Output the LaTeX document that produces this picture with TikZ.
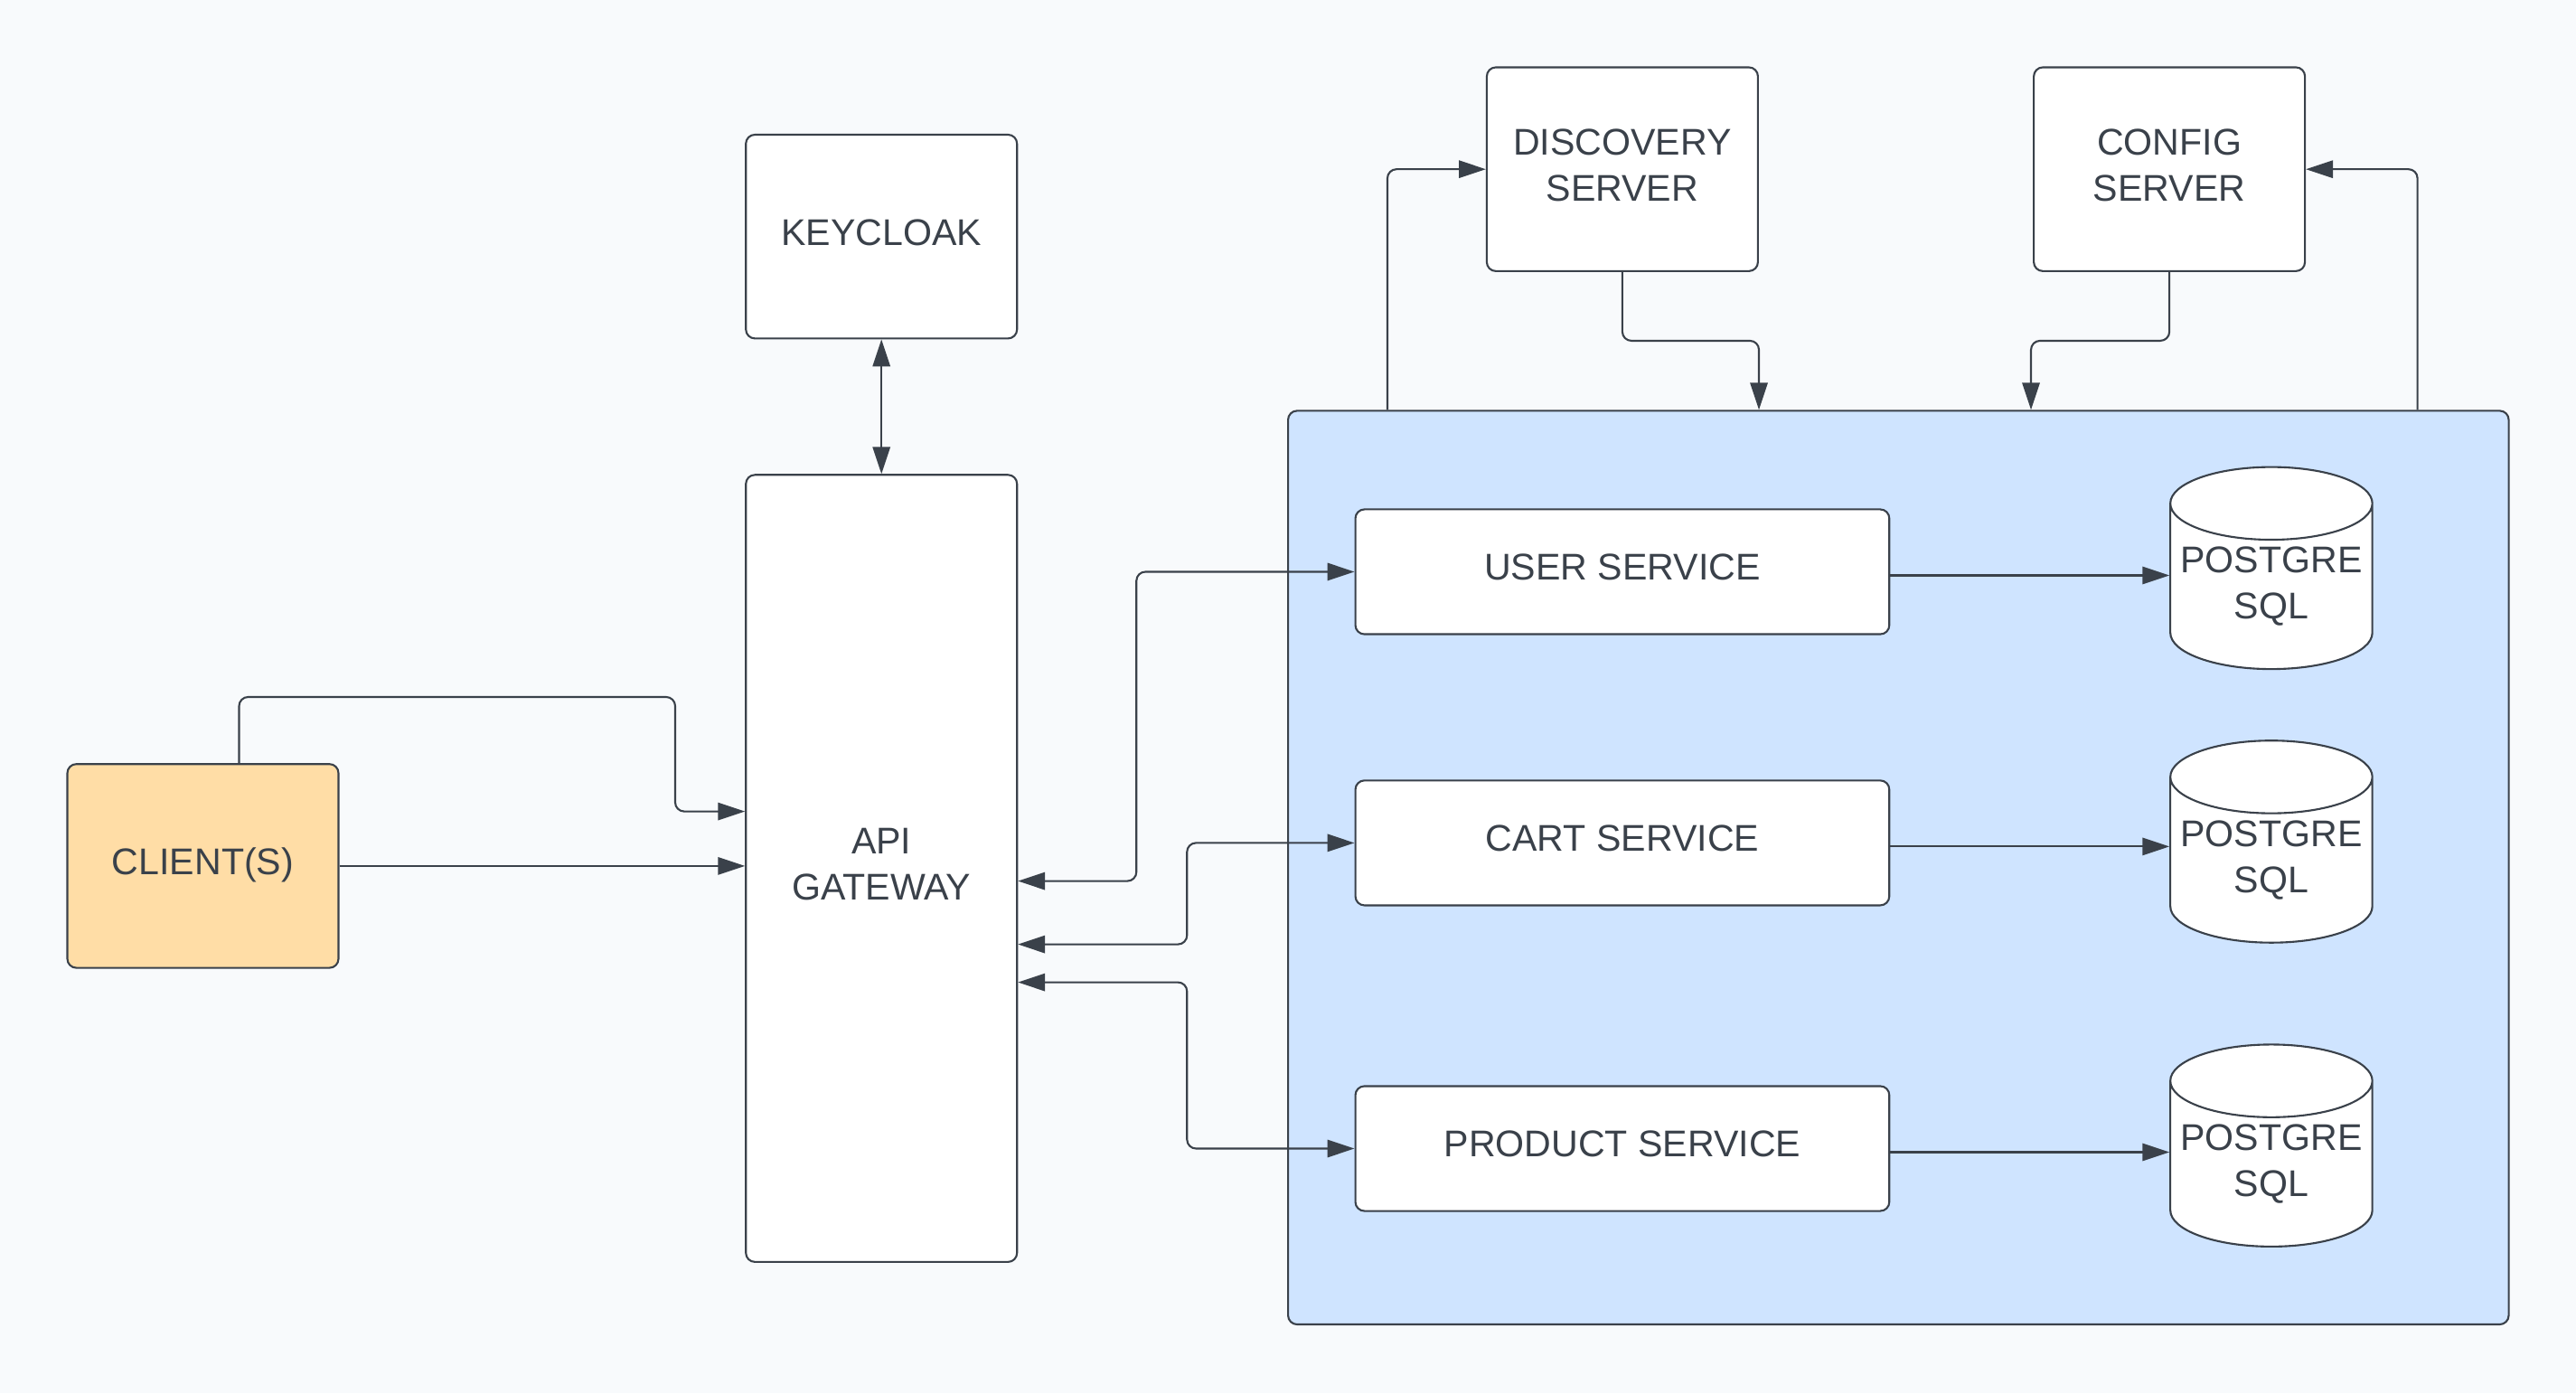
\documentclass[tikz,border=0pt]{standalone}
\usepackage{fontspec}
\setmainfont{Liberation Sans}
\usetikzlibrary{arrows.meta,shapes.geometric}
\definecolor{bgcol}{HTML}{F8FAFC}
\definecolor{linecol}{HTML}{3A414A}
\definecolor{clientcol}{HTML}{FFDDA6}
\definecolor{groupcol}{HTML}{CFE4FF}

\begin{document}
\begin{tikzpicture}[
    box/.style={draw=linecol, fill=white, rounded corners=1mm, line width=0.6pt,
      minimum width=3cm, minimum height=2.254cm, inner sep=0pt, align=center,
      text=linecol, text depth=1mm, font=\fontsize{11.7}{14.5}\selectfont},
    svc/.style={box, minimum width=5.907cm, minimum height=1.381cm},
    db/.style={draw=linecol, fill=white, line width=0.6pt, inner sep=0pt, align=center,
      text=linecol, font=\fontsize{11.7}{14.5}\selectfont,
      cylinder, shape border rotate=90, shape aspect=0.4,
      minimum width=2.235cm, minimum height=2.235cm},
    link/.style={draw=linecol, line width=0.6pt, rounded corners=1mm,
      -{Triangle[length=8.5pt,width=5.5pt]}},
    both/.style={link, {Triangle[length=8.5pt,width=5.5pt]}-{Triangle[length=8.5pt,width=5.5pt]}}
  ]
    \fill[bgcol] (0,0) rectangle (28.5,15.41);
    \useasboundingbox (0,0) rectangle (28.5,15.41);

    \node[box] (keycloak) at (9.752,12.793) {KEYCLOAK};
    \node[box, minimum height=8.706cm] (api) at (9.752,5.804) {API\\GATEWAY};
    \node[box, fill=clientcol] (client) at (2.245,5.831) {CLIENT(S)};
    \node[box] (discovery) at (17.949,13.538) {DISCOVERY\\SERVER};
    \node[box] (config) at (24.001,13.538) {CONFIG\\SERVER};

    \node[draw=linecol, fill=groupcol, rounded corners=1mm, line width=0.6pt,
      minimum width=13.505cm, minimum height=10.106cm] (services) at (21.003,5.813) {};
    \node[svc] (user) at (17.949,9.085) {USER SERVICE};
    \node[svc] (cart) at (17.949,6.086) {CART SERVICE};
    \node[svc] (product) at (17.949,2.705) {PRODUCT SERVICE};
    \node[db] (userdb) at (25.129,8.92) {POSTGRE\\SQL};
    \node[db] (cartdb) at (25.129,5.894) {POSTGRE\\SQL};
    \node[db] (productdb) at (25.129,2.532) {POSTGRE\\SQL};

    \draw[both] (keycloak.south) -- (api.north);
    \draw[link] ([xshift=4mm]client.north) |- (7.47,7.70) |- ([yshift=6.3mm]api.west);
    \draw[link] (client.east) -- (client.east -| api.west);
    \draw[both] ([yshift=-1.4mm]api.east) -- ++(1.31,0) |- (user.west);
    \draw[both] ([yshift=-8.4mm]api.east) -- ++(1.87,0) |- (cart.west);
    \draw[both] ([yshift=-12.6mm]api.east) -- ++(1.87,0) |- (product.west);
    \draw[link] ([yshift=-0.4mm]user.east) -- ([yshift=-0.4mm]user.east -| userdb.west);
    \draw[link] ([yshift=-0.4mm]cart.east) -- ([yshift=-0.4mm]cart.east -| cartdb.west);
    \draw[link] ([yshift=-0.4mm]product.east) -- ([yshift=-0.4mm]product.east -| productdb.west);
    \draw[link] ([xshift=11.1mm]services.north west) |- (discovery.west);
    \draw[link] ([xshift=-10.2mm]services.north east) |- (config.east);
    \draw[link] (discovery.south) -- ++(0,-0.76) -| ([xshift=52.2mm]services.north west);
    \draw[link] (config.south) -- ++(0,-0.76) -| ([xshift=82.3mm]services.north west);
\end{tikzpicture}
\end{document}
